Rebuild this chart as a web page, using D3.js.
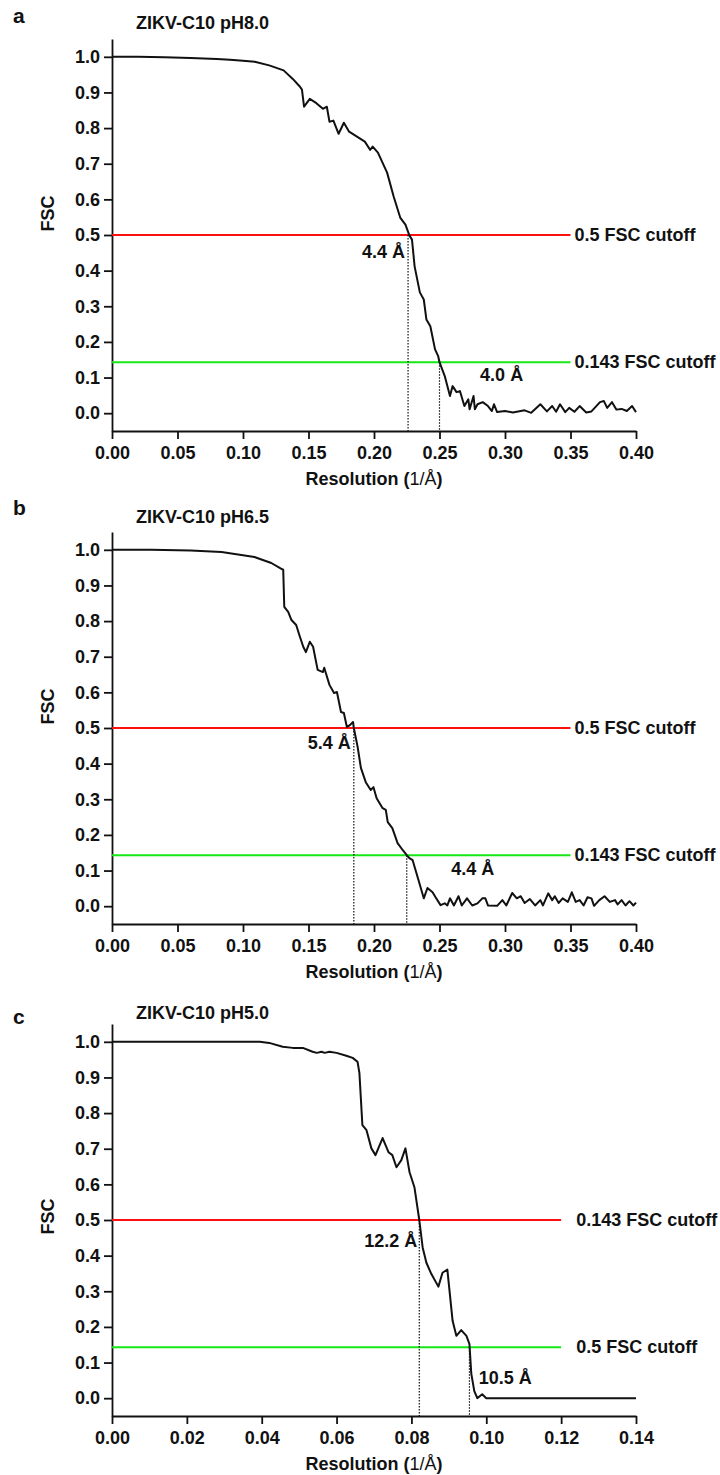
<!DOCTYPE html>
<html>
<head>
<meta charset="utf-8">
<script src="https://cdn.jsdelivr.net/npm/d3@7"></script>
<style>
  body { margin: 0; background: #fff; }
  text { font-family: "Liberation Sans", Arial, sans-serif; font-weight: bold; fill: #111; }
</style>
</head>
<body>
<svg id="chart"></svg>
<script>
// FSC curves, (1/A) vs FSC
var resA = [0.000, 0.020, 0.040, 0.060, 0.080, 0.090, 0.100, 0.109, 0.120, 0.131, 0.138, 0.1435, 0.145, 0.1466, 0.151, 0.156, 0.161, 0.164, 0.166, 0.169, 0.173, 0.177, 0.181, 0.187, 0.193, 0.197, 0.199, 0.203, 0.210, 0.215, 0.220, 0.224, 0.227, 0.229, 0.231, 0.235, 0.238, 0.240, 0.243, 0.2466, 0.249, 0.250, 0.254, 0.258, 0.260, 0.263, 0.2656, 0.269, 0.272, 0.273, 0.276, 0.277, 0.279, 0.283, 0.287, 0.290, 0.2916, 0.294, 0.300, 0.306, 0.315, 0.320, 0.327, 0.332, 0.336, 0.339, 0.342, 0.346, 0.349, 0.353, 0.357, 0.362, 0.366, 0.3725, 0.3755, 0.378, 0.3817, 0.385, 0.389, 0.393, 0.397, 0.400];
var fscA = [1.000, 1.000, 0.999, 0.997, 0.994, 0.992, 0.989, 0.986, 0.976, 0.962, 0.938, 0.916, 0.908, 0.860, 0.882, 0.870, 0.854, 0.860, 0.818, 0.821, 0.784, 0.815, 0.790, 0.776, 0.762, 0.739, 0.748, 0.731, 0.675, 0.608, 0.549, 0.529, 0.499, 0.487, 0.412, 0.339, 0.319, 0.263, 0.244, 0.179, 0.160, 0.143, 0.104, 0.048, 0.076, 0.059, 0.062, 0.020, 0.039, 0.011, 0.048, 0.011, 0.025, 0.031, 0.020, 0.006, 0.025, 0.003, 0.006, 0.002, 0.008, 0.001, 0.025, 0.005, 0.020, 0.004, 0.025, 0.003, 0.015, 0.004, 0.020, 0.002, 0.005, 0.031, 0.034, 0.015, 0.031, 0.010, 0.012, 0.006, 0.020, 0.003];

var resB = [0.000, 0.030, 0.060, 0.0836, 0.100, 0.1087, 0.1216, 0.129, 0.1307, 0.1315, 0.1345, 0.137, 0.1406, 0.143, 0.146, 0.148, 0.151, 0.1535, 0.157, 0.161, 0.162, 0.166, 0.1695, 0.1717, 0.1748, 0.177, 0.1793, 0.1816, 0.184, 0.1846, 0.1875, 0.190, 0.1937, 0.1975, 0.1996, 0.202, 0.2066, 0.209, 0.2105, 0.214, 0.218, 0.222, 0.225, 0.227, 0.2295, 0.234, 0.238, 0.2408, 0.2447, 0.247, 0.2508, 0.254, 0.256, 0.258, 0.261, 0.2645, 0.267, 0.271, 0.275, 0.279, 0.2827, 0.285, 0.287, 0.294, 0.298, 0.301, 0.3055, 0.309, 0.312, 0.315, 0.319, 0.323, 0.327, 0.329, 0.333, 0.336, 0.338, 0.341, 0.344, 0.348, 0.351, 0.354, 0.357, 0.360, 0.363, 0.366, 0.368, 0.372, 0.376, 0.380, 0.384, 0.386, 0.389, 0.392, 0.395, 0.398, 0.400];
var fscB = [1.000, 1.000, 0.998, 0.994, 0.985, 0.980, 0.963, 0.947, 0.944, 0.840, 0.826, 0.803, 0.789, 0.761, 0.728, 0.713, 0.742, 0.728, 0.663, 0.657, 0.669, 0.621, 0.598, 0.601, 0.545, 0.542, 0.503, 0.508, 0.517, 0.500, 0.447, 0.388, 0.348, 0.326, 0.334, 0.303, 0.275, 0.270, 0.236, 0.219, 0.177, 0.157, 0.143, 0.135, 0.129, 0.073, 0.022, 0.051, 0.039, 0.025, 0.003, 0.008, 0.002, 0.022, 0.002, 0.028, 0.002, 0.022, 0.002, 0.008, 0.022, 0.022, 0.002, 0.001, 0.017, 0.002, 0.037, 0.022, 0.028, 0.009, 0.020, 0.002, 0.017, 0.002, 0.036, 0.017, 0.028, 0.009, 0.022, 0.012, 0.039, 0.012, 0.017, 0.002, 0.025, 0.022, 0.001, 0.017, 0.028, 0.012, 0.017, 0.005, 0.017, 0.002, 0.014, 0.002, 0.010];

var resC = [0.000, 0.020, 0.035, 0.0395, 0.042, 0.0456, 0.0483, 0.051, 0.0536, 0.0547, 0.056, 0.0568, 0.0581, 0.060, 0.0626, 0.0643, 0.0656, 0.0661, 0.0669, 0.068, 0.0693, 0.0704, 0.0723, 0.0739, 0.0749, 0.076, 0.0773, 0.0784, 0.0795, 0.0808, 0.0821, 0.0830, 0.0840, 0.0853, 0.0872, 0.0883, 0.0896, 0.0899, 0.0910, 0.0920, 0.0933, 0.0947, 0.0955, 0.0960, 0.0968, 0.0976, 0.0989, 0.100, 0.140];
var fscC = [1.000, 1.000, 1.000, 1.000, 0.997, 0.986, 0.983, 0.983, 0.972, 0.969, 0.972, 0.969, 0.972, 0.969, 0.961, 0.955, 0.944, 0.913, 0.766, 0.752, 0.701, 0.682, 0.730, 0.690, 0.682, 0.648, 0.668, 0.701, 0.634, 0.592, 0.500, 0.423, 0.380, 0.349, 0.313, 0.352, 0.361, 0.330, 0.217, 0.175, 0.191, 0.175, 0.152, 0.068, 0.020, 0.000, 0.011, 0.000, 0.000];

// axis ticks
var yTicks = [0.0, 0.1, 0.2, 0.3, 0.4, 0.5, 0.6, 0.7, 0.8, 0.9, 1.0];
var xTicksAB = [0.00, 0.05, 0.10, 0.15, 0.20, 0.25, 0.30, 0.35, 0.40];
var xTicksC = [0.00, 0.02, 0.04, 0.06, 0.08, 0.10, 0.12, 0.14];

// panel names, titles
var panelLetters = ['a', 'b', 'c'];
var panelTitles = ['ZIKV-C10 pH8.0', 'ZIKV-C10 pH6.5', 'ZIKV-C10 pH5.0'];

// cutoffs: value, label text, where the curve crosses it, resolution label
var redCutoff = [0.5, 0.5, 0.5];
var redLabels = ['0.5 FSC cutoff', '0.5 FSC cutoff', '0.143 FSC cutoff'];
var redCross = [0.226, 0.1846, 0.0821];
var redRes = ['4.4 Å', '5.4 Å', '12.2 Å'];
var greenCutoff = [0.143, 0.143, 0.143];
var greenLabels = ['0.143 FSC cutoff', '0.143 FSC cutoff', '0.5 FSC cutoff'];
var greenCross = [0.250, 0.225, 0.0955];
var greenRes = ['4.0 Å', '4.4 Å', '10.5 Å'];

var W = 720, H = 1475;
var FS = '18px';
var svg = d3.select('#chart').attr('width', W).attr('height', H);

var panels = [
	{res: resA, fsc: fscA, xMax: 0.40, xTicks: xTicksAB, lineEnd: 0.35, labGap: 4, top: 39, titleDy: -10, letterDy: -16, fscY: 0.56,
	 redLab: {dx: -3, dy: 23}, greenLab: {x: 0.281, dy: 0.052}},
	{res: resB, fsc: fscB, xMax: 0.40, xTicks: xTicksAB, lineEnd: 0.35, labGap: 4, top: 532, titleDy: -9, letterDy: -17, fscY: 0.56,
	 redLab: {dx: -3, dy: 21}, greenLab: {x: 0.259, dy: 0.055}},
	{res: resC, fsc: fscC, xMax: 0.14, xTicks: xTicksC, lineEnd: 0.12, labGap: 15, top: 1024, titleDy: -5, letterDy: 0, fscY: 0.51,
	 redLab: {dx: -2, dy: 27}, greenLab: {x: 0.0980, dy: 0.103}}
];

var left = 112, right = 636, plotH = 392;

panels.forEach(function(p, i) {
	var g = svg.append('g');

	var x = d3.scaleLinear().domain([0, p.xMax]).range([left, right]);
	var y = d3.scaleLinear().domain([-0.05, 1.05]).range([p.top + plotH, p.top]);

	// panel letter and title
	g.append('text')
		.attr('x', 13).attr('y', p.top + p.letterDy)
		.style('font-size', '21px')
		.text(panelLetters[i]);
	g.append('text')
		.attr('x', 136).attr('y', p.top + p.titleDy)
		.style('font-size', FS)
		.text(panelTitles[i]);

	// axes
	var yAxis = g.append('g')
		.attr('transform', 'translate(' + left + ',0)')
		.call(d3.axisLeft(y).tickValues(yTicks).tickFormat(d3.format('.1f'))
			.tickSize(8).tickSizeOuter(0).tickPadding(4));
	var xAxis = g.append('g')
		.attr('transform', 'translate(0,' + y(-0.05) + ')')
		.call(d3.axisBottom(x).tickValues(p.xTicks).tickFormat(d3.format('.2f'))
			.tickSize(8).tickSizeOuter(0).tickPadding(7));
	[yAxis, xAxis].forEach(function(a) {
		a.selectAll('path, line').attr('stroke', '#111').attr('stroke-width', 1.8);
		a.selectAll('text').attr('font-family', null).style('font-size', FS).style('fill', '#111');
	});

	// axis titles
	g.append('text')
		.attr('transform', 'translate(54,' + y(p.fscY) + ') rotate(-90)')
		.attr('text-anchor', 'middle')
		.style('font-size', FS)
		.text('FSC');
	var xt = g.append('text')
		.attr('x', (left + right) / 2).attr('y', y(-0.05) + 54)
		.attr('text-anchor', 'middle')
		.style('font-size', FS)
		.text('Resolution (');
	xt.append('tspan').style('font-weight', 'normal').text('1/Å');
	xt.append('tspan').text(')');

	// cutoff lines
	g.append('line')
		.attr('x1', x(0)).attr('x2', x(p.lineEnd))
		.attr('y1', y(redCutoff[i])).attr('y2', y(redCutoff[i]))
		.attr('stroke', '#ff1010').attr('stroke-width', 2);
	g.append('line')
		.attr('x1', x(0)).attr('x2', x(p.lineEnd))
		.attr('y1', y(greenCutoff[i])).attr('y2', y(greenCutoff[i]))
		.attr('stroke', '#16e816').attr('stroke-width', 2);
	g.append('text')
		.attr('x', x(p.lineEnd) + p.labGap).attr('y', y(redCutoff[i]) + 6)
		.style('font-size', FS)
		.text(redLabels[i]);
	g.append('text')
		.attr('x', x(p.lineEnd) + p.labGap).attr('y', y(greenCutoff[i]) + 6)
		.style('font-size', FS)
		.text(greenLabels[i]);

	// dotted drop lines where curve crosses the cutoffs
	[[redCross[i], redCutoff[i]], [greenCross[i], greenCutoff[i]]].forEach(function(c) {
		g.append('line')
			.attr('x1', x(c[0])).attr('x2', x(c[0]))
			.attr('y1', y(c[1])).attr('y2', y(-0.05))
			.attr('stroke', '#111').attr('stroke-width', 1.2)
			.attr('stroke-dasharray', '1.5,1.5');
	});

	// resolution labels
	g.append('text')
		.attr('x', x(redCross[i]) + p.redLab.dx).attr('y', y(redCutoff[i]) + p.redLab.dy)
		.attr('text-anchor', 'end')
		.style('font-size', FS)
		.text(redRes[i]);
	g.append('text')
		.attr('x', x(p.greenLab.x)).attr('y', y(greenCutoff[i] - p.greenLab.dy))
		.style('font-size', FS)
		.text(greenRes[i]);

	// the FSC curve
	var pts = d3.zip(p.res, p.fsc);
	g.append('path')
		.datum(pts)
		.attr('fill', 'none')
		.attr('stroke', '#111')
		.attr('stroke-width', 2)
		.attr('stroke-linejoin', 'round')
		.attr('d', d3.line().x(function(d) { return x(d[0]); }).y(function(d) { return y(d[1]); }));
});
</script>
</body>
</html>
